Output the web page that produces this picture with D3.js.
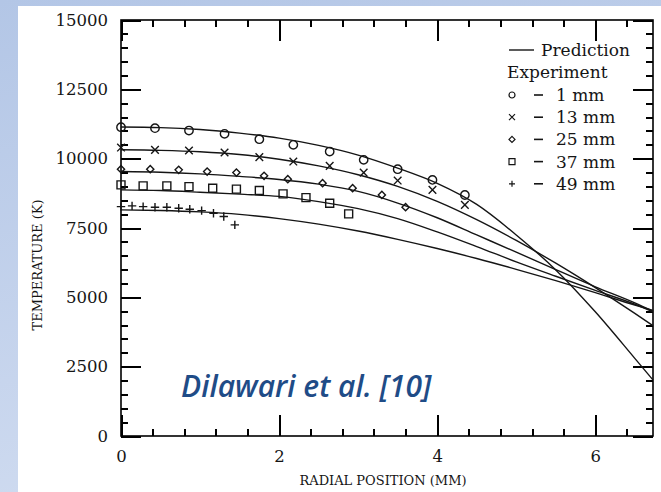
<!DOCTYPE html>
<html>
<head>
<meta charset="utf-8">
<script src="https://cdn.jsdelivr.net/npm/d3@7"></script>
<style>
  html, body { margin: 0; padding: 0; background: #fff; }
  svg { display: block; }
</style>
</head>
<body>
<svg id="chart" width="661" height="492"></svg>
<script>
// radial positions (mm) where the prediction curves were read
const radius = [0, 0.5, 1, 1.5, 2, 2.5, 3, 3.5, 4, 4.5, 5, 5.5, 6, 6.5, 6.73];

// predicted temperature (K) for each axial distance
const pred1mm  = [11140, 11120, 11050, 10920, 10740, 10480, 10130, 9660, 9110, 8350, 7250, 5990, 4480, 2800, 2020];
const pred13mm = [10320, 10300, 10250, 10150, 9980, 9740, 9420, 9000, 8460, 7800, 7050, 6230, 5350, 4420, 3980];
const pred25mm = [9535, 9510, 9450, 9360, 9250, 9080, 8820, 8400, 7870, 7250, 6630, 6000, 5380, 4800, 4500];
const pred37mm = [8874, 8850, 8790, 8720, 8640, 8450, 8200, 7840, 7360, 6830, 6280, 5760, 5250, 4750, 4480];
const pred49mm = [8153, 8130, 8080, 7990, 7840, 7640, 7390, 7090, 6760, 6400, 6010, 5600, 5170, 4720, 4530];

// experimental points
const exp1mmX  = [0, 0.43, 0.86, 1.31, 1.75, 2.18, 2.64, 3.07, 3.5, 3.94, 4.35];
const exp1mmT  = [11136, 11100, 11014, 10895, 10703, 10498, 10256, 9957, 9620, 9235, 8690];
const exp13mmX = [0, 0.43, 0.86, 1.31, 1.75, 2.18, 2.64, 3.07, 3.5, 3.94, 4.35];
const exp13mmT = [10400, 10318, 10292, 10220, 10054, 9895, 9740, 9498, 9210, 8875, 8333];
const exp25mmX = [0, 0.37, 0.73, 1.09, 1.46, 1.81, 2.11, 2.55, 2.93, 3.3, 3.6];
const exp25mmT = [9620, 9620, 9596, 9535, 9498, 9380, 9260, 9115, 8935, 8694, 8250];
const exp37mmX = [0, 0.28, 0.58, 0.86, 1.16, 1.46, 1.75, 2.05, 2.34, 2.64, 2.88];
const exp37mmT = [9055, 9019, 9019, 8993, 8935, 8900, 8850, 8730, 8597, 8394, 8008];
const exp49mmX = [0, 0.14, 0.28, 0.43, 0.58, 0.73, 0.87, 1.02, 1.17, 1.3, 1.44];
const exp49mmT = [8272, 8297, 8272, 8250, 8250, 8213, 8176, 8128, 8033, 7913, 7612];

const expLabels = ["1 mm", "13 mm", "25 mm", "37 mm", "49 mm"];
const expSymbols = ["circle", "times", "diamond", "square", "plus"];

const xTicks = [0, 2, 4, 6];
const yTicks = [0, 2500, 5000, 7500, 10000, 12500, 15000];
const xMinorTicks = [0.4, 0.8, 1.2, 1.6, 2.4, 2.8, 3.2, 3.6, 4.4, 4.8, 5.2, 5.6, 6.4];
const yMinorTicks = [500, 1000, 1500, 2000, 3000, 3500, 4000, 4500, 5500, 6000, 6500, 7000,
  8000, 8500, 9000, 9500, 10500, 11000, 11500, 12000, 13000, 13500, 14000, 14500];

const svg = d3.select("svg#chart");
const width = +svg.attr("width");
const height = +svg.attr("height");

const xMax = 6.73;
const x = d3.scaleLinear().domain([0, xMax]).range([121, 653]);
const y = d3.scaleLinear().domain([0, 15000]).range([436, 20]);

const serif = "'DejaVu Serif', serif";
const ink = "#000";

// slide background
const grad = svg.append("defs").append("linearGradient")
  .attr("id", "bg").attr("x1", 0).attr("y1", 0).attr("x2", 0.3).attr("y2", 1);
grad.append("stop").attr("offset", "0%").attr("stop-color", "#b3c6e6");
grad.append("stop").attr("offset", "100%").attr("stop-color", "#cfdbf0");
svg.append("rect").attr("width", width).attr("height", height).attr("fill", "url(#bg)");
svg.append("rect").attr("x", 18).attr("y", 6)
  .attr("width", width - 18).attr("height", height - 6).attr("fill", "#fff");

const x0 = x(0), x1 = x(xMax), yb = y(0), yt = y(15000);

// inward ticks, using standard (positive) axis orientation on each edge
function edgeTicks(axis, values, size, transform) {
  const g = svg.append("g")
    .attr("transform", transform)
    .call(axis.tickValues(values).tickSizeInner(size).tickSizeOuter(0).tickFormat(() => ""));
  g.select(".domain").remove();
  g.selectAll(".tick line")
    .attr("stroke", ink)
    .attr("stroke-width", 2)
    .attr("shape-rendering", "crispEdges");
}
// bottom edge: ticks point up, top edge: ticks point down
edgeTicks(d3.axisTop(x), xMinorTicks, 7, `translate(0,${yb})`);
edgeTicks(d3.axisTop(x), xTicks, 21, `translate(0,${yb})`);
edgeTicks(d3.axisBottom(x), xMinorTicks, 7, `translate(0,${yt})`);
edgeTicks(d3.axisBottom(x), xTicks, 21, `translate(0,${yt})`);
// left edge: ticks point right, right edge: ticks point left
edgeTicks(d3.axisRight(y), yMinorTicks, 7, `translate(${x0},0)`);
edgeTicks(d3.axisRight(y), yTicks, 20, `translate(${x0},0)`);
edgeTicks(d3.axisLeft(y), yMinorTicks, 7, `translate(${x1},0)`);
edgeTicks(d3.axisLeft(y), yTicks, 20, `translate(${x1},0)`);

// frame
svg.append("rect")
  .attr("x", x0).attr("y", yt)
  .attr("width", x1 - x0).attr("height", yb - yt)
  .attr("fill", "none").attr("stroke", ink).attr("stroke-width", 1.6);

// tick labels
const xAxis = svg.append("g")
  .attr("transform", `translate(0,${yb})`)
  .call(d3.axisBottom(x).tickValues(xTicks).tickSize(0).tickPadding(14).tickFormat(d3.format("d")));
const yAxis = svg.append("g")
  .attr("transform", `translate(${x0},0)`)
  .call(d3.axisLeft(y).tickValues(yTicks).tickSize(0).tickPadding(13).tickFormat(d3.format("d")));

[xAxis, yAxis].forEach(g => {
  g.select(".domain").remove();
  g.selectAll(".tick line").remove();
  g.selectAll(".tick text")
    .attr("font-family", serif).attr("font-size", 16.5).attr("fill", "#151515");
});

// axis titles
svg.append("text")
  .attr("x", (x0 + x1) / 2 - 4).attr("y", 485)
  .attr("text-anchor", "middle")
  .attr("font-family", serif).attr("font-size", 13).attr("fill", "#151515")
  .text("RADIAL POSITION (MM)");

svg.append("text")
  .attr("transform", "translate(42,265) rotate(-90)")
  .attr("text-anchor", "middle")
  .attr("font-family", serif).attr("font-size", 13).attr("fill", "#151515")
  .text("TEMPERATURE (K)");

// prediction curves
const line = d3.line()
  .x((d, i) => x(radius[i]))
  .y(d => y(d))
  .curve(d3.curveMonotoneX);

const predictions = [pred1mm, pred13mm, pred25mm, pred37mm, pred49mm];
svg.append("g")
  .selectAll("path")
  .data(predictions)
  .enter()
  .append("path")
  .attr("d", line)
  .attr("fill", "none")
  .attr("stroke", "#151515")
  .attr("stroke-width", 1.4);

// open markers
function marker(type, s) {
  if (type === "circle") return d3.symbol(d3.symbolCircle, Math.PI * s * s)();
  if (type === "times") return `M${-s},${-s}L${s},${s}M${-s},${s}L${s},${-s}`;
  if (type === "plus") return `M${-s},0L${s},0M0,${-s}L0,${s}`;
  if (type === "square") return `M${-s},${-s}H${s}V${s}H${-s}Z`;
  return `M0,${-s}L${s},0L0,${s}L${-s},0Z`;
}
const markerSize = { circle: 4.2, times: 3.8, diamond: 3.6, square: 4, plus: 4.2 };

const experiments = [
  [exp1mmX, exp1mmT], [exp13mmX, exp13mmT], [exp25mmX, exp25mmT],
  [exp37mmX, exp37mmT], [exp49mmX, exp49mmT]
];

experiments.forEach(([xs, ts], k) => {
  const type = expSymbols[k];
  svg.append("g")
    .selectAll("path")
    .data(xs.map((v, i) => ({ r: v, t: ts[i] })))
    .enter()
    .append("path")
    .attr("transform", d => `translate(${x(d.r)},${y(d.t)})`)
    .attr("d", marker(type, markerSize[type]))
    .attr("fill", "none")
    .attr("stroke", "#151515")
    .attr("stroke-width", 1.4);
});

// legend
const legend = svg.append("g").attr("font-family", serif).attr("fill", "#151515").attr("font-size", 17);
legend.append("line")
  .attr("x1", 509).attr("x2", 534).attr("y1", 50).attr("y2", 50)
  .attr("stroke", "#151515").attr("stroke-width", 1.4);
legend.append("text").attr("x", 541).attr("y", 56).text("Prediction");
legend.append("text").attr("x", 507).attr("y", 78).text("Experiment");

expLabels.forEach((label, k) => {
  const cy = 95 + k * 22.2;
  const type = expSymbols[k];
  legend.append("path")
    .attr("transform", `translate(512,${cy})`)
    .attr("d", marker(type, 3))
    .attr("fill", "none").attr("stroke", "#151515").attr("stroke-width", 1.2);
  legend.append("line")
    .attr("x1", 534).attr("x2", 543).attr("y1", cy).attr("y2", cy)
    .attr("stroke", "#151515").attr("stroke-width", 1.6);
  legend.append("text").attr("x", 556).attr("y", cy + 6).text(label);
});

// citation
svg.append("text")
  .attr("x", 181).attr("y", 397)
  .attr("font-family", "'Open Sans', sans-serif")
  .attr("font-style", "italic").attr("font-weight", 600)
  .attr("font-size", 30).attr("fill", "#1f4c87")
  .text("Dilawari et al. [10]");
</script>
</body>
</html>
